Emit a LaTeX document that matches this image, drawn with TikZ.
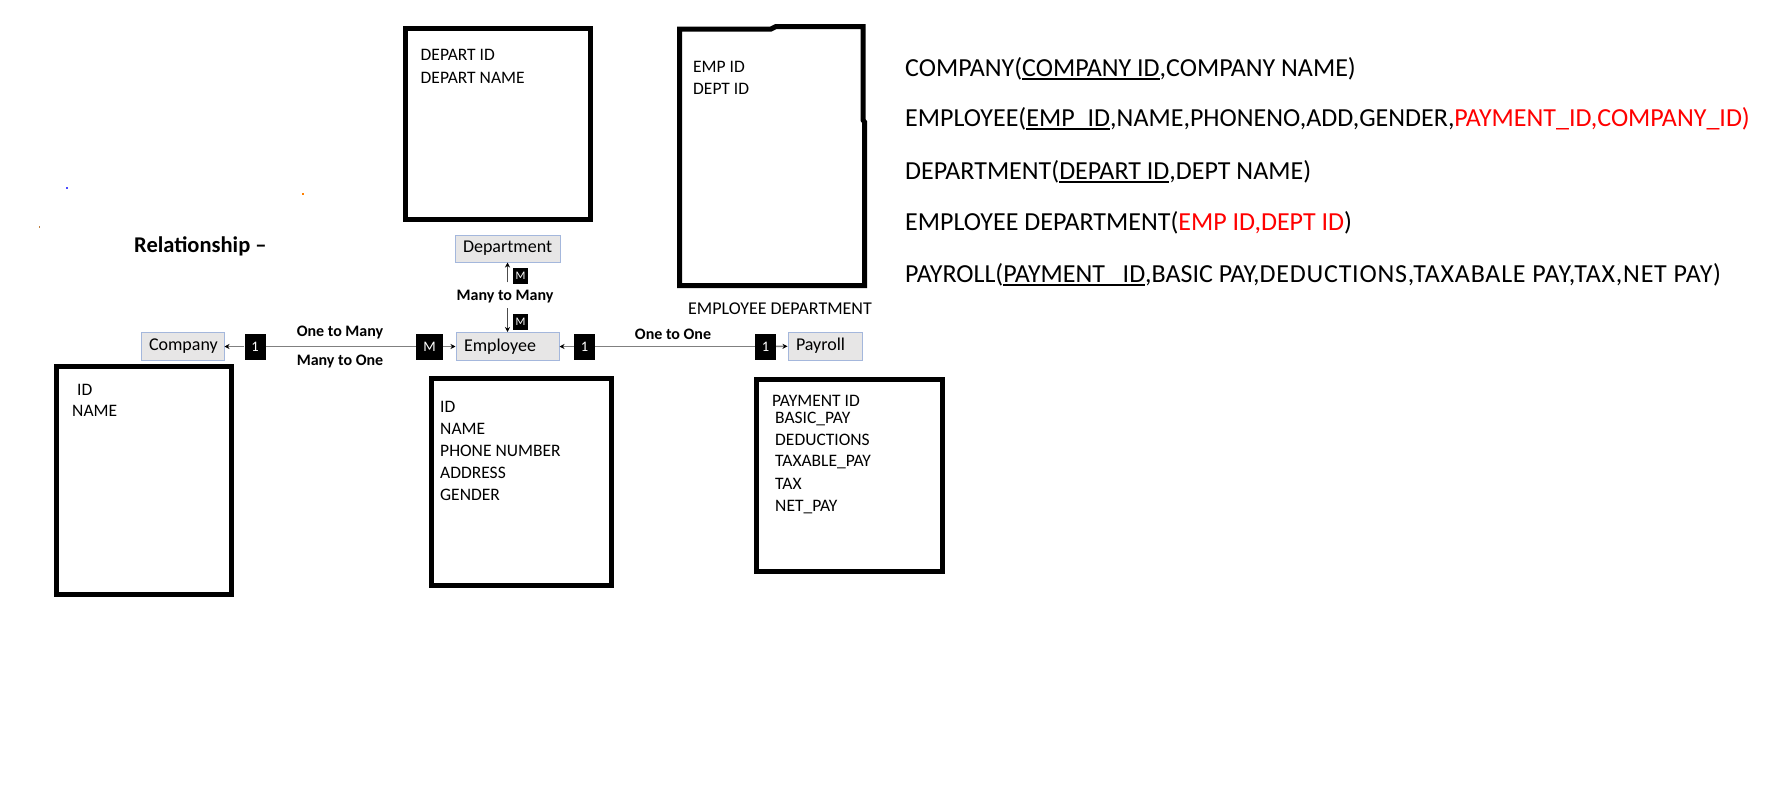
\documentclass[tikz,border=0pt]{standalone}
\usepackage{fontspec}
\setmainfont{Carlito}
\usetikzlibrary{arrows.meta}

\definecolor{entfill}{HTML}{E7E6E6}
\definecolor{entline}{HTML}{A4B7DC}
\definecolor{linkgray}{HTML}{808080}
\definecolor{keyred}{HTML}{FF0000}

% underline drawn at a fixed depth so that underscores merge into it
\newcommand\keyul[1]{\setbox0\hbox{#1}\rlap{\rule[-3.6pt]{\wd0}{1.8pt}}\box0}

\begin{document}
\begin{tikzpicture}[x=1pt,y=-1pt,
  tablebox/.style={draw=black, line width=5pt},
  entity/.style={draw=entline, fill=entfill, line width=1pt, inner xsep=8pt, inner ysep=0pt,
    minimum height=28pt, align=left, font=\fontsize{18}{20}\selectfont},
  card/.style={fill=black, text=white, inner sep=0pt, minimum width=21pt, minimum height=26pt,
    font=\fontsize{14.5}{16}\selectfont},
  smallcard/.style={card, minimum width=15pt, minimum height=16pt, font=\fontsize{11.5}{12}\selectfont},
  rel/.style={inner sep=0pt, font=\bfseries\fontsize{16}{18}\selectfont},
  field/.style={anchor=base west, inner sep=0pt, font=\fontsize{17.5}{20}\selectfont},
  schema/.style={anchor=base west, inner sep=0pt, font=\fontsize{26}{30}\selectfont},
  link/.style={draw=linkgray, line width=1.6pt},
  vlink/.style={draw=black!70, line width=1.2pt},
  tip/.style={-{Stealth[length=5pt,width=5pt,color=black]}}
]
\useasboundingbox (0,0) rectangle (1772,787);

% stray specks
\fill[blue!70] (66,186.5) rectangle ++(2,2);
\fill[brown] (38.5,225.5) rectangle ++(1.5,2.5);
\fill[orange] (301.5,193) rectangle ++(2,1.5);

% ---------- attribute tables ----------
\draw[tablebox] (405.5,28.5) rectangle (590.5,219.5);
\node[field] (dep1) at (420.5,60.5) {DEPART ID};
\node[field] (dep2) at (420.5,83) {DEPART NAME};

\draw[tablebox] (679.5,285.5) -- (679.5,29) -- (771,29) -- (776,26.5) -- (863,26.5)
  -- (863,120) -- (864.5,122) -- (864.5,285.5) -- cycle;
\node[field] (ed1) at (693,72) {EMP ID};
\node[field] (ed2) at (693,94) {DEPT ID};

\draw[tablebox] (56.5,366.5) rectangle (231.5,594.5);
\node[field] (co1) at (77,395) {ID};
\node[field] (co2) at (72,416.5) {NAME};

\draw[tablebox] (431.5,378.5) rectangle (611.5,585.5);
\node[field] (em1) at (440,412) {ID};
\node[field] (em2) at (440,434) {NAME};
\node[field] (em3) at (440,456) {PHONE NUMBER};
\node[field] (em4) at (440,478) {ADDRESS};
\node[field] (em5) at (440,500) {GENDER};

\draw[tablebox] (756.5,379.5) rectangle (942.5,571.5);
\node[field] (pa1) at (772,406) {PAYMENT ID};
\node[field] (pa2) at (775,423) {BASIC\_PAY};
\node[field] (pa3) at (775,445) {DEDUCTIONS};
\node[field] (pa4) at (775,466.5) {TAXABLE\_PAY};
\node[field] (pa5) at (775,489) {TAX};
\node[field] (pa6) at (775,511) {NET\_PAY};

\node[anchor=base, inner sep=0pt, font=\fontsize{18}{20}\selectfont] (edlabel) at (780,314) {EMPLOYEE DEPARTMENT};

% ---------- relationship diagram ----------
\node[anchor=base west, inner sep=0pt, font=\bfseries\fontsize{22.5}{24}\selectfont] (reltitle) at (134,252) {Relationship –};

\node[entity, text width=67pt] (company) at (182.5,346.5) {Company};
\node[entity, text width=87pt] (employee) at (507.5,346.5) {Employee};
\node[entity, text width=58pt] (payroll) at (825,346) {Payroll};
\node[entity, text width=89pt, minimum height=27pt] (department) at (507.5,248.5) {Department};

\node[card] (c1) at (255,346.5) {1};
\node[card, minimum width=27pt] (cm) at (429.5,346.5) {M};
\node[card] (c2) at (584.5,346.5) {1};
\node[card] (c3) at (765.5,346.5) {1};
\node[smallcard] (mtop) at (520.5,275.5) {M};
\node[smallcard] (mbot) at (520.5,321.5) {M};

\node[rel] (onemany) at (340,333) {One to Many};
\node[rel] (manyone) at (340,362) {Many to One};
\node[rel] (oneone) at (673,334) {One to One};
\node[rel] (manymany) at (505,297) {Many to Many};

\draw[link, tip] (c1) -- (company);
\draw[link] (c1) -- (cm);
\draw[link, tip] (cm) -- (employee);
\draw[link, tip] (c2) -- (employee);
\draw[link] (c2) -- (c3);
\draw[link, tip] (c3) -- (payroll);

\draw[vlink, tip, shorten <=8pt] (department.south |- manymany.north) -- (department.south);
\draw[vlink, tip, shorten <=4.5pt] (employee.north |- manymany.south) -- (employee.north);

% ---------- relational schema ----------
\node[schema] (s1) at (905,76) {COMPANY(\keyul{COMPANY ID},COMPANY NAME)};
\node[schema] (s2) at (905,126.5) {EMPLOYEE(\keyul{EMP\_ID},NAME,PHONENO,ADD,GENDER,\textcolor{keyred}{PAYMENT\_ID,COMPANY\_ID)}};
\node[schema] (s3) at (905,179.5) {DEPARTMENT(\keyul{DEPART ID},DEPT NAME)};
\node[schema] (s4) at (905,230.5) {EMPLOYEE DEPARTMENT(\textcolor{keyred}{EMP ID,DEPT ID})};
\node[schema] (s5) at (905,282.5) {PAYROLL(\keyul{PAYMENT\hspace{0.18em}\_ID},BASIC PAY,{\addfontfeature{LetterSpace=3}DEDUCTIONS,TAXABALE PAY,TAX,NET PAY)}};
\end{tikzpicture}
\end{document}
